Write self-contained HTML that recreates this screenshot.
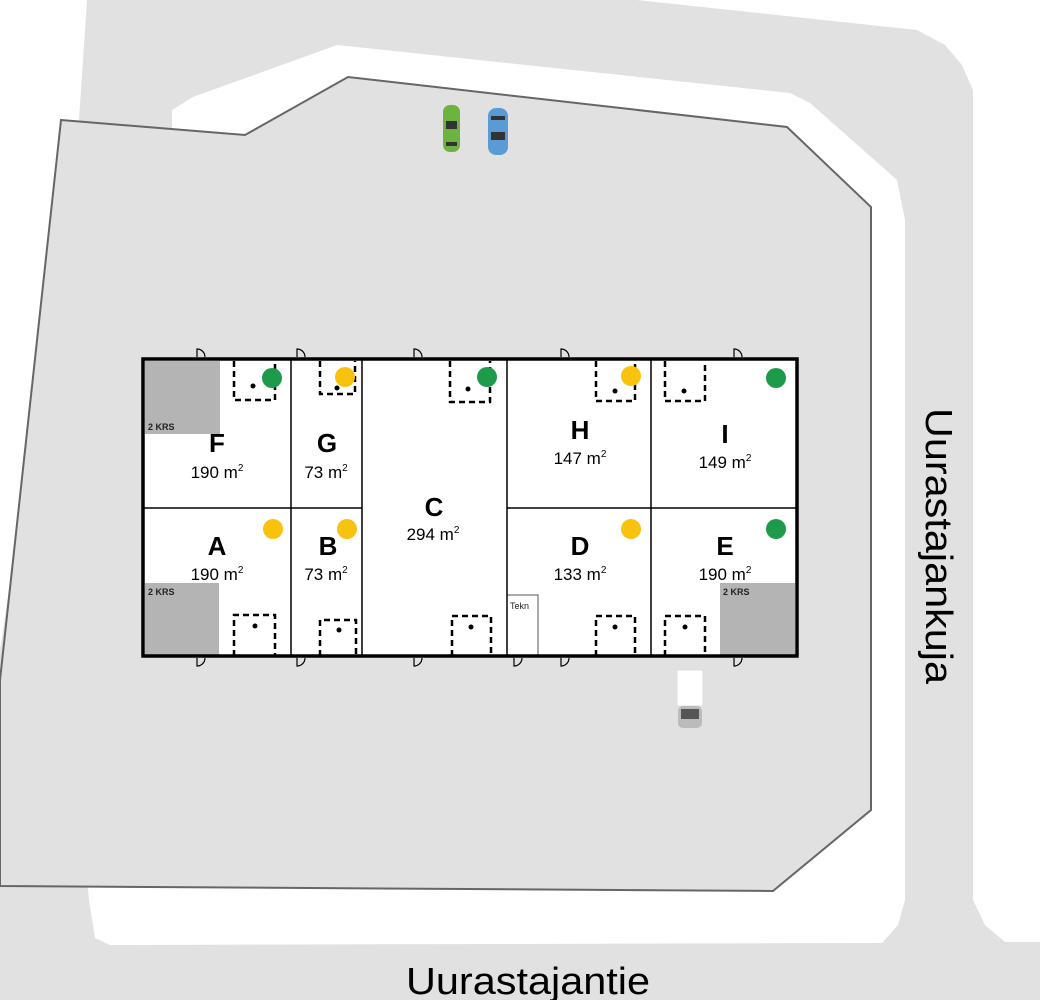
<!DOCTYPE html>
<html><head><meta charset="utf-8"><style>html,body{margin:0;padding:0;background:#fff}svg{display:block}</style></head>
<body>
<svg width="1040" height="1000" viewBox="0 0 1040 1000" xmlns="http://www.w3.org/2000/svg" font-family="Liberation Sans, sans-serif">
<rect width="1040" height="1000" fill="#fff"/>
<polygon fill="#e1e1e1" points="87,0 637,0 917,30 945,45 962,65 973,90 973,900 985,925 1005,942 1040,942 1040,1000 0,1000 0,650 79,120"/>
<polygon fill="#fff" points="172,127 172,110 193,97 337,45 790,93 810,103 897,180 905,220 905,900 898,925 882,943 110,945 95,938 89,900 87,880 20,700"/>
<polygon fill="#e1e1e1" stroke="#666" stroke-width="2" points="61,120 245,135 348,77 787,127 871,207 871,810 773,891 0,886 0,680"/>
<!-- cars -->
<rect x="443" y="105" width="17" height="47" rx="7" fill="#6cb33f"/>
<rect x="446" y="121" width="11" height="8" fill="#333"/><rect x="446" y="142" width="11" height="4" fill="#333"/>
<rect x="488" y="108" width="20" height="47" rx="8" fill="#5b9bd5"/>
<rect x="491" y="116" width="14" height="4" fill="#333"/><rect x="491" y="132" width="14" height="8" fill="#333"/>
<rect x="677" y="670" width="26" height="36" fill="#fff" stroke="#ddd"/>
<rect x="678" y="706" width="24" height="22" rx="5" fill="#bbb"/><rect x="681" y="709" width="18" height="10" fill="#555"/>
<!-- building -->
<rect x="143" y="359" width="654" height="297" fill="#fff"/>
<rect x="145" y="361" width="75" height="73" fill="#b4b4b4"/>
<rect x="145" y="583" width="74" height="72" fill="#b4b4b4"/>
<rect x="720" y="583" width="75" height="72" fill="#b4b4b4"/>
<g font-size="9" font-weight="bold" fill="#222"><text x="148" y="430">2 KRS</text><text x="148" y="595">2 KRS</text><text x="723" y="595">2 KRS</text></g>
<rect x="507" y="595" width="31" height="61" fill="#fff" stroke="#555"/>
<text x="510" y="609" font-size="9" fill="#222">Tekn</text>
<g stroke="#000" stroke-width="1.5" fill="none">
<line x1="291" y1="359" x2="291" y2="656"/><line x1="362" y1="359" x2="362" y2="656"/>
<line x1="507" y1="359" x2="507" y2="656"/><line x1="651" y1="359" x2="651" y2="656"/>
<line x1="143" y1="508" x2="362" y2="508"/><line x1="507" y1="508" x2="797" y2="508"/>
</g>
<rect x="143" y="359" width="654" height="297" fill="none" stroke="#000" stroke-width="3.5"/>
<!-- dashed boxes -->
<g stroke="#000" stroke-width="2.5" stroke-dasharray="6,4" fill="none">
<path d="M234,361 V400 H275 V361"/><path d="M320,361 V394 H355 V361"/><path d="M450,361 V402 H490 V361"/>
<path d="M596,361 V401 H635 V361"/><path d="M665,361 V401 H705 V361"/>
<path d="M234,656 V615 H275 V656"/><path d="M320,656 V620 H356 V656"/><path d="M452,656 V616 H491 V656"/>
<path d="M596,656 V616 H635 V656"/><path d="M665,656 V616 H705 V656"/>
</g>
<g fill="#000">
<circle cx="253" cy="386" r="2.5"/><circle cx="337" cy="388" r="2.5"/><circle cx="468" cy="389" r="2.5"/><circle cx="615" cy="391" r="2.5"/><circle cx="684" cy="391" r="2.5"/>
<circle cx="255" cy="626" r="2.5"/><circle cx="339" cy="630" r="2.5"/><circle cx="471" cy="627" r="2.5"/><circle cx="615" cy="627" r="2.5"/><circle cx="685" cy="627" r="2.5"/>
</g>
<g fill="#1e9a4b"><circle cx="272" cy="378" r="10"/><circle cx="487" cy="377" r="10"/><circle cx="776" cy="378" r="10"/><circle cx="776" cy="529" r="10"/></g>
<g fill="#f9c20f"><circle cx="345" cy="377" r="10"/><circle cx="631" cy="376" r="10"/><circle cx="273" cy="529" r="10"/><circle cx="347" cy="529" r="10"/><circle cx="631" cy="529" r="10"/></g>
<!-- doors -->
<g stroke="#000" stroke-width="1.2" fill="none">
<path d="M197,357 V349 A8,8 0 0 1 205,357"/><path d="M297,357 V349 A8,8 0 0 1 305,357"/><path d="M414,357 V349 A8,8 0 0 1 422,357"/><path d="M561,357 V349 A8,8 0 0 1 569,357"/><path d="M734,357 V349 A8,8 0 0 1 742,357"/>
<path d="M197,658 V666 A8,8 0 0 0 205,658"/><path d="M297,658 V666 A8,8 0 0 0 305,658"/><path d="M414,658 V666 A8,8 0 0 0 422,658"/><path d="M514,658 V666 A8,8 0 0 0 522,658"/><path d="M561,658 V666 A8,8 0 0 0 569,658"/><path d="M734,658 V666 A8,8 0 0 0 742,658"/>
</g>
<!-- labels -->
<g text-anchor="middle" fill="#000">
<g font-size="26" font-weight="bold">
<text x="217" y="452">F</text><text x="327" y="452">G</text><text x="434" y="516">C</text><text x="580" y="439">H</text><text x="725" y="443">I</text>
<text x="217" y="555">A</text><text x="328" y="555">B</text><text x="580" y="555">D</text><text x="725" y="555">E</text>
</g>
<g font-size="17">
<text x="217" y="478">190 m<tspan font-size="10" dy="-7">2</tspan></text>
<text x="326" y="478">73 m<tspan font-size="10" dy="-7">2</tspan></text>
<text x="433" y="540">294 m<tspan font-size="10" dy="-7">2</tspan></text>
<text x="580" y="464">147 m<tspan font-size="10" dy="-7">2</tspan></text>
<text x="725" y="468">149 m<tspan font-size="10" dy="-7">2</tspan></text>
<text x="217" y="580">190 m<tspan font-size="10" dy="-7">2</tspan></text>
<text x="326" y="580">73 m<tspan font-size="10" dy="-7">2</tspan></text>
<text x="580" y="580">133 m<tspan font-size="10" dy="-7">2</tspan></text>
<text x="725" y="580">190 m<tspan font-size="10" dy="-7">2</tspan></text>
</g>
<text x="528" y="994" font-size="38" textLength="244" lengthAdjust="spacingAndGlyphs">Uurastajantie</text>
</g>
<text x="0" y="0" font-size="38" transform="translate(926,408) rotate(90)" textLength="276" lengthAdjust="spacingAndGlyphs" fill="#000">Uurastajankuja</text>
</svg>
</body></html>
